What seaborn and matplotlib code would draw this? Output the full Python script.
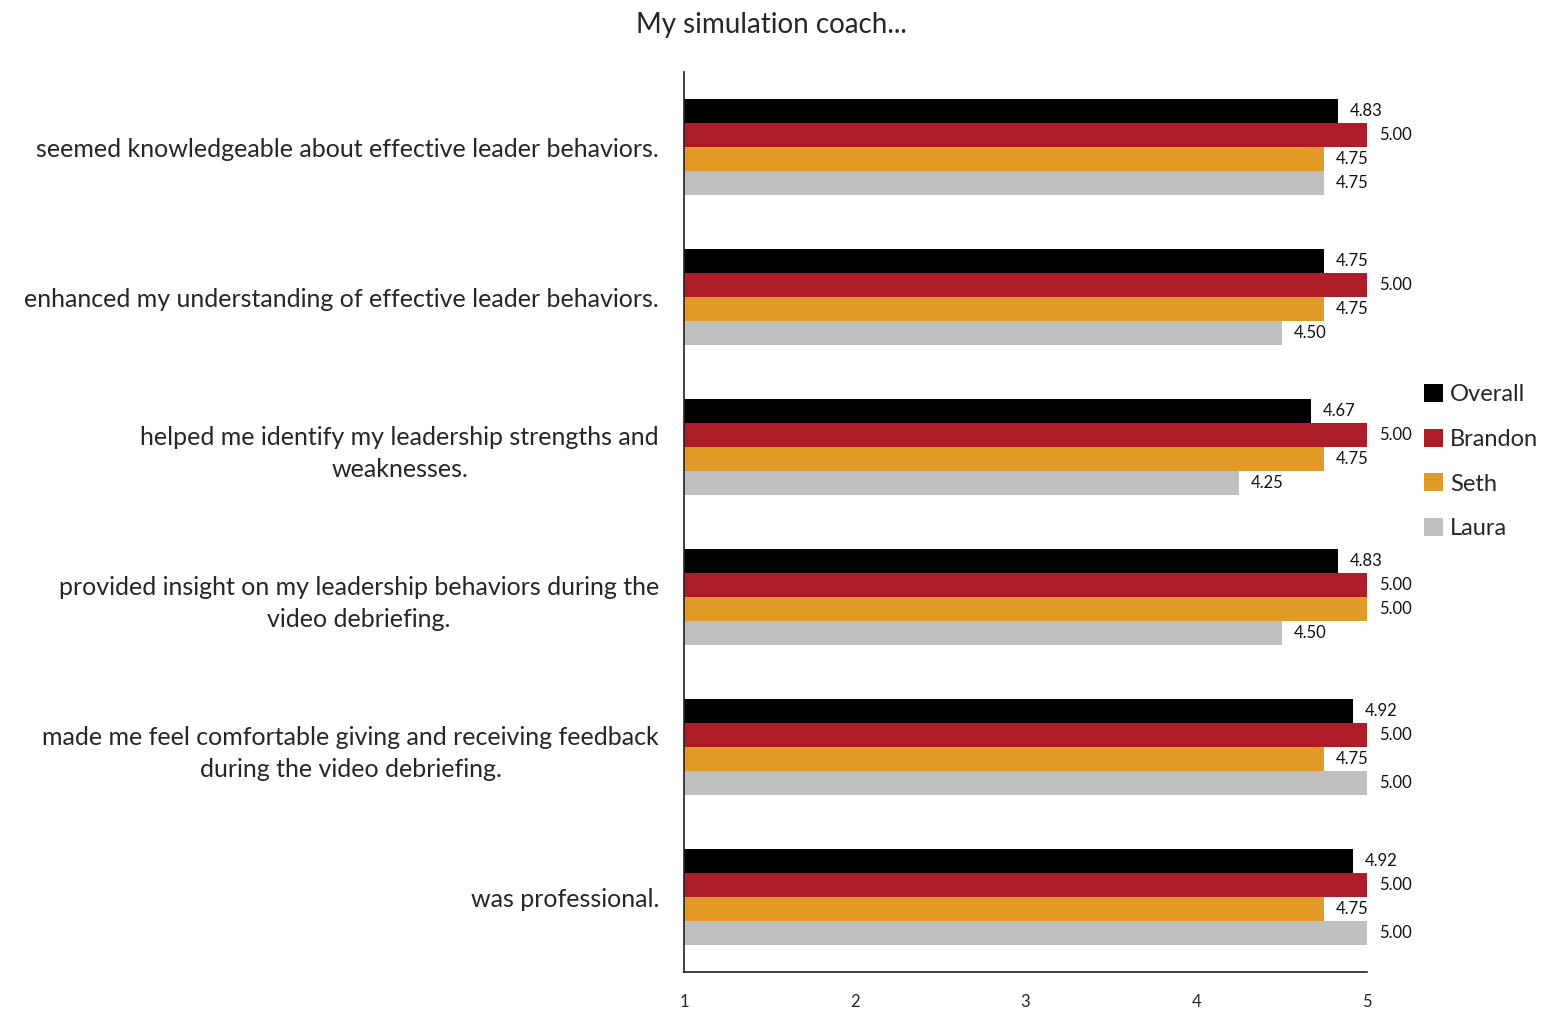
import numpy as np
import pandas as pd
import matplotlib
matplotlib.use("Agg")
import matplotlib.pyplot as plt
from matplotlib.patches import Patch
import seaborn as sns

statements = [
    "seemed knowledgeable about effective leader behaviors.",
    "enhanced my understanding of effective leader behaviors.",
    "helped me identify my leadership strengths and\nweaknesses.",
    "provided insight on my leadership behaviors during the\nvideo debriefing.",
    "made me feel comfortable giving and receiving feedback\nduring the video debriefing.",
    "was professional.",
]
coaches = ["Overall", "Brandon", "Seth", "Laura"]
overall = [4.83, 4.75, 4.67, 4.83, 4.92, 4.92]
brandon = [5.00, 5.00, 5.00, 5.00, 5.00, 5.00]
seth = [4.75, 4.75, 4.75, 5.00, 4.75, 4.75]
laura = [4.75, 4.50, 4.25, 4.50, 5.00, 5.00]
colors = ["#000000", "#AE1C28", "#E09A25", "#BFBFBF"]

df = pd.DataFrame({
    "statement": statements * 4,
    "coach": np.repeat(coaches, len(statements)),
    "score": overall + brandon + seth + laura,
})

sns.set_style("white")
plt.rcParams["font.family"] = ["Lato", "DejaVu Sans"]

fig = plt.figure(figsize=(15.53, 10.1), dpi=100)
ax = fig.add_axes([0.4404, 0.0376, 0.4398, 0.8911])

sns.barplot(data=df, y="statement", x="score", hue="coach", order=statements,
            hue_order=coaches, palette=colors, width=0.64, orient="h",
            ax=ax, legend=False, saturation=1, linewidth=0)

ax.set_xlim(1, 5)
ax.set_ylim(len(statements) - 0.5, -0.5)
ax.set_xticks([1, 2, 3, 4, 5])
ax.set_xlabel("")
ax.set_ylabel("")
ax.tick_params(axis="x", labelsize=12, pad=16, length=0)
ax.tick_params(axis="y", labelsize=18, pad=18, length=0)
for lbl in ax.get_yticklabels():
    lbl.set_horizontalalignment("right")
    lbl.set_multialignment("center")
    lbl.set_linespacing(1.45)
sns.despine(ax=ax, top=True, right=True)
for s in ["left", "bottom"]:
    ax.spines[s].set_color("#222222")
    ax.spines[s].set_linewidth(1.2)

for cont in ax.containers:
    for bar in cont:
        w = bar.get_width()
        ax.text(bar.get_x() + w + 0.07, bar.get_y() + bar.get_height() / 2,
                f"{w:.2f}", va="center", ha="left", fontsize=12, color="#111111")

handles = [Patch(facecolor=c, edgecolor="none", label=n) for c, n in zip(colors, coaches)]
fig.legend(handles=handles, loc="center left", bbox_to_anchor=(0.911, 0.543),
           frameon=False, fontsize=17, handlelength=0.8, handleheight=0.8,
           handletextpad=0.3, labelspacing=1.0, borderaxespad=0)

fig.suptitle("My simulation coach...", x=0.497, y=0.988, fontsize=20, va="top")

fig.savefig("out.png", dpi=100)
